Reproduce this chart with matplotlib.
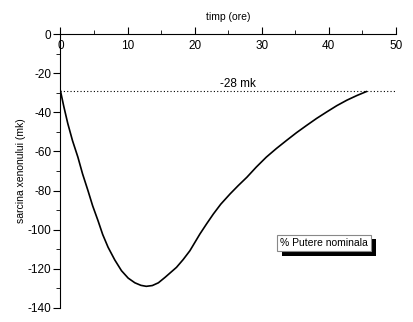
import numpy as np
import matplotlib.pyplot as plt
import matplotlib.patheffects as pe
from matplotlib.ticker import MultipleLocator

plt.rcParams['font.family'] = ['Liberation Sans', 'DejaVu Sans']
plt.rcParams['axes.unicode_minus'] = False

# timp (ore) vs sarcina xenonului (mk)
timp = [0, 0.5, 1.1, 1.8, 2.6, 3.3, 4.1, 4.8, 5.6, 6.3, 7.1, 8.1, 9.1, 10.1, 11.1,
        12.0, 12.8, 13.7, 14.6, 15.6, 16.4, 17.3, 18.3, 19.3, 20.8, 21.8, 22.8,
        23.9, 25.3, 26.5, 27.8, 29.2, 30.7, 32.2, 33.7, 35.2, 36.7, 38.2, 39.7,
        41.2, 42.7, 44.2, 45.6]
sarcina = [-29, -37, -45.8, -54.5, -62.9, -71.5, -80, -87.8, -95.4, -102.5, -109,
           -115.5, -121, -124.8, -127.2, -128.5, -129, -128.6, -127.2, -124.4,
           -122, -119.3, -115.3, -110.8, -102.2, -97, -92, -87, -81.7, -77.5,
           -73.2, -68, -62.9, -58.5, -54.4, -50.4, -46.7, -43.1, -39.8, -36.6,
           -33.8, -31.4, -29.4]
nivel_ref = -29.3
eticheta_ref = "-28 mk"
legenda = "% Putere nominala"

fig = plt.figure(figsize=(4.14, 3.22), dpi=100)
ax = fig.add_axes([0.146, 0.044, 0.81, 0.85])

ax.plot(timp, sarcina, color="black", lw=1.2)
ax.axhline(nivel_ref, color="black", lw=0.8, ls=(0, (1, 2)))
ax.text(26.4, -25.5, eticheta_ref, ha="center", va="center", fontsize=8.5)

ax.set_xlim(0, 50)
ax.set_ylim(-140, 0)

for s in ["right", "top"]:
    ax.spines[s].set_visible(False)
ax.spines["bottom"].set_position(("data", 0))

ax.xaxis.set_major_locator(MultipleLocator(10))
ax.xaxis.set_minor_locator(MultipleLocator(5))
ax.yaxis.set_major_locator(MultipleLocator(20))
ax.yaxis.set_minor_locator(MultipleLocator(10))
ax.tick_params(axis="x", which="both", direction="in", labelsize=8.5, pad=4)
ax.tick_params(axis="x", which="major", length=5)
ax.tick_params(axis="x", which="minor", length=3)
ax.tick_params(axis="y", which="major", direction="out", length=5, labelsize=8.5, pad=1.5)
ax.tick_params(axis="y", which="minor", direction="out", length=3)

ax.xaxis.set_label_position("top")
ax.set_xlabel("timp (ore)", fontsize=7.5, labelpad=10)
ax.set_ylabel("sarcina xenonului (mk)", fontsize=7.5, labelpad=1)

t = ax.text(39.3, -106.7, legenda, ha="center", va="center", fontsize=7.5,
            bbox=dict(boxstyle="square,pad=0.3", fc="white", ec="#888888", lw=0.8))
t.get_bbox_patch().set_path_effects([
    pe.SimplePatchShadow(offset=(3.5, -3.5), shadow_rgbFace="black", alpha=1),
    pe.Normal()])

fig.savefig("out.png", dpi=100)
